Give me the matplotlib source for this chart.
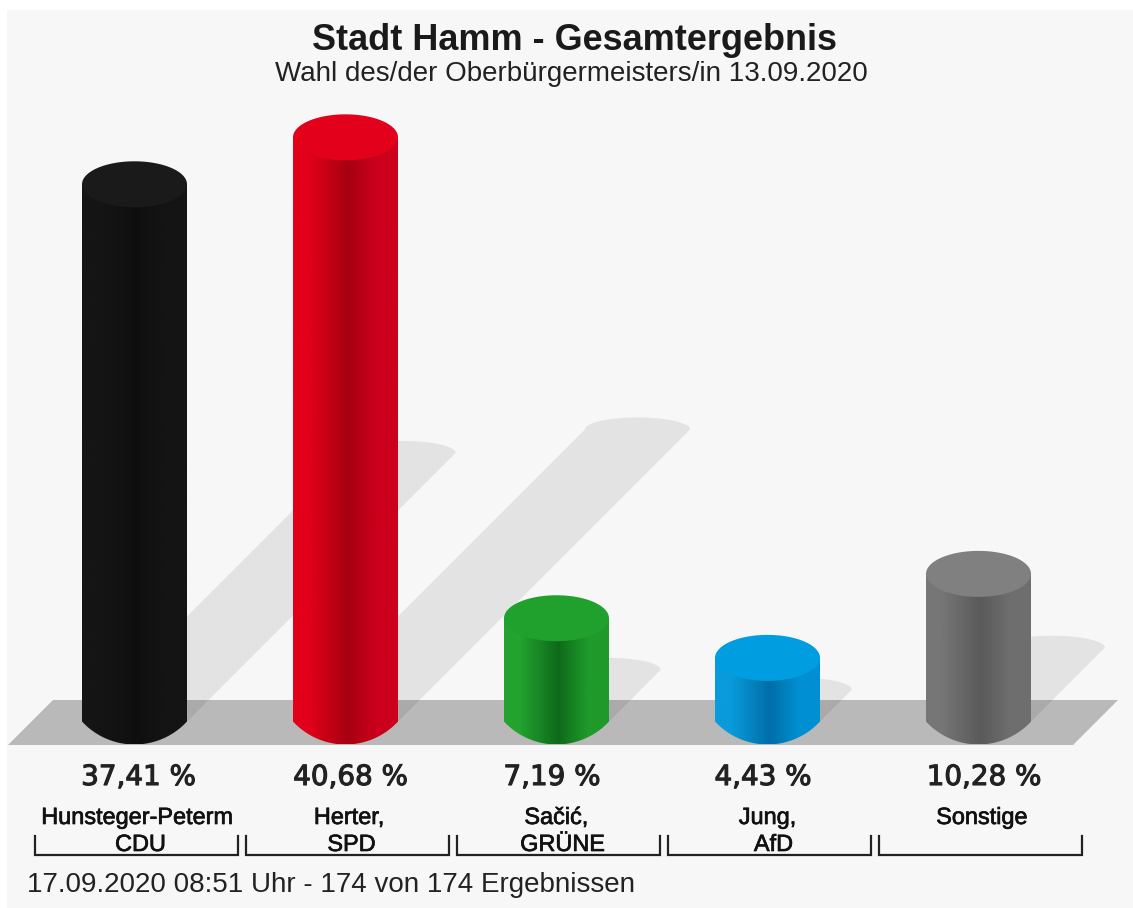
import numpy as np
import matplotlib
matplotlib.use('Agg')
import matplotlib.pyplot as plt
import matplotlib.patheffects as pe
from matplotlib.colors import LinearSegmentedColormap
from matplotlib.patches import PathPatch, Polygon, Rectangle
from matplotlib.path import Path

plt.rcParams['font.family'] = ['Liberation Sans', 'DejaVu Sans']

names = ["Hunsteger-Peterm", "Herter,", "Sačić,", "Jung,", "Sonstige"]
parties = ["CDU", "SPD", "GRÜNE", "AfD", ""]
values = [37.41, 40.68, 7.19, 4.43, 10.28]
value_labels = ["37,41 %", "40,68 %", "7,19 %", "4,43 %", "10,28 %"]

# left edge, dark centre, right edge of the cylinder, then the lid colour
shades = [
    ["#151515", "#0f0f0f", "#141414", "#1a1a1a"],
    ["#e2001a", "#a60010", "#cc001c", "#e2001a"],
    ["#23a32f", "#0e6a1a", "#1f9a2b", "#20a02c"],
    ["#0a9bdc", "#006ea8", "#008fd2", "#009de0"],
    ["#767676", "#5a5a5a", "#6e6e6e", "#808080"],
]

# text offsets from the column centre, pixels
value_shift = [4, 5, -4.5, -4.5, 5.5]
name_shift = [2.5, 3.5, 0, 0, 3.5]
party_shift = 6

W, H = 1133, 908
px_x = 211.0     # pixels per category
px_y = 14.36     # pixels per percent
x0_px = 134.5    # pixel of first category
y0_px = 721.5    # pixel of 0 %
half_w = 52.5 / px_x
half_h = 23.0 / px_y
shadow_px = 7.18  # shadow runs at 45 degrees, pixels per percent


def fy(y):
    return 1 - y / H


fig = plt.figure(figsize=(W / 100, H / 100), dpi=100, facecolor="white")
ax = fig.add_axes([0, 0, 1, 1])
ax.axis("off")
ax.add_patch(Rectangle((7 / W, 0), 1, 1 - 10 / H, transform=ax.transAxes,
                       fc="#f7f7f7", ec="none", zorder=0))

floor_top = (y0_px - 700) / px_y
floor_bot = (y0_px - 745) / px_y
xl = (8 - x0_px) / px_x
xr = (1073 - x0_px) / px_x
skew = 45 / px_x
ax.add_patch(Polygon([(xl, floor_bot), (xr, floor_bot), (xr + skew, floor_top), (xl + skew, floor_top)],
                     fc="#b9b9b9", ec="none", zorder=1))

t = np.linspace(0, np.pi, 60)
xtrans = ax.get_xaxis_transform()
for i, v in enumerate(values):
    # shadow: a sheared copy of the cylinder
    cx = i + v * shadow_px / px_x
    cy = v * shadow_px / px_y
    top_x = cx + half_w * np.cos(t)
    top_y = cy + (12.0 / px_y) * np.sin(t)
    ax.fill(np.r_[top_x, i - half_w, i + half_w], np.r_[top_y, 0, 0], fc="black", alpha=0.08, ec="none", zorder=2)

    # cylinder side, bottom edge is a shallow arc
    s = np.linspace(-1, 1, 60)
    r = (52.5 ** 2 + 23.0 ** 2) / (2 * 23.0)
    arc = (np.sqrt(r ** 2 - (52.5 * s) ** 2) - (r - 23.0)) / px_y
    vx = np.r_[i + half_w * s, i + half_w, i - half_w, i - half_w]
    vy = np.r_[-arc, v, v, -arc[0]]
    clip = PathPatch(Path(np.c_[vx, vy]), transform=ax.transData, fc="none", ec="none")
    ax.add_patch(clip)
    cmap = LinearSegmentedColormap.from_list(
        "side", [(0, shades[i][0]), (0.15, shades[i][0]), (0.52, shades[i][1]),
                 (0.8, shades[i][2]), (1, shades[i][2])])
    im = ax.imshow(np.linspace(0, 1, 256).reshape(1, -1), cmap=cmap, aspect="auto",
                   extent=(i - half_w, i + half_w, -half_h, v), zorder=3, interpolation="bilinear")
    im.set_clip_path(clip)

    # lid
    a = np.linspace(0, 2 * np.pi, 120)
    ax.fill(i + half_w * np.cos(a), v + half_h * np.sin(a), fc=shades[i][3], ec="none", zorder=4)

    # value, name and party
    txt = ax.text(i + value_shift[i] / px_x, fy(777), value_labels[i], transform=xtrans, ha="center", va="center",
                  fontsize=20, family="DejaVu Sans", color="#222222", zorder=5)
    txt.set_path_effects([pe.withStroke(linewidth=0.8, foreground="#222222")])
    txt = ax.text(i + name_shift[i] / px_x, fy(817.5), names[i], transform=xtrans, ha="center", va="center",
                  fontsize=16.9, color="#111111", zorder=5)
    txt.set_path_effects([pe.withStroke(linewidth=0.5, foreground="#111111")])
    txt = ax.text(i + party_shift / px_x, fy(844.5), parties[i], transform=xtrans, ha="center", va="center",
                  fontsize=16.9, color="#111111", zorder=5)
    txt.set_path_effects([pe.withStroke(linewidth=0.5, foreground="#111111")])

    # bracket under each column
    bx = i + 2 / px_x
    ax.plot([bx - 0.481, bx - 0.481, bx + 0.481, bx + 0.481], [fy(836), fy(855), fy(855), fy(836)],
            transform=xtrans, color="#222222", lw=1.6, zorder=5, solid_joinstyle="miter")

ax.set_xlim(-x0_px / px_x, (W - x0_px) / px_x)
ax.set_ylim((y0_px - H) / px_y, y0_px / px_y)

fig.text(574 / W, fy(40.5), "Stadt Hamm - Gesamtergebnis", ha="center", va="center",
         fontsize=25.9, fontweight="bold", color="#1a1a1a")
fig.text(571 / W, fy(74), "Wahl des/der Oberbürgermeisters/in 13.09.2020", ha="center", va="center",
         fontsize=20, color="#222222")
fig.text(27 / W, fy(885), "17.09.2020 08:51 Uhr - 174 von 174 Ergebnissen", ha="left", va="center",
         fontsize=20, color="#222222")

plt.savefig("out.png", dpi=100, facecolor="white")
plt.close()
